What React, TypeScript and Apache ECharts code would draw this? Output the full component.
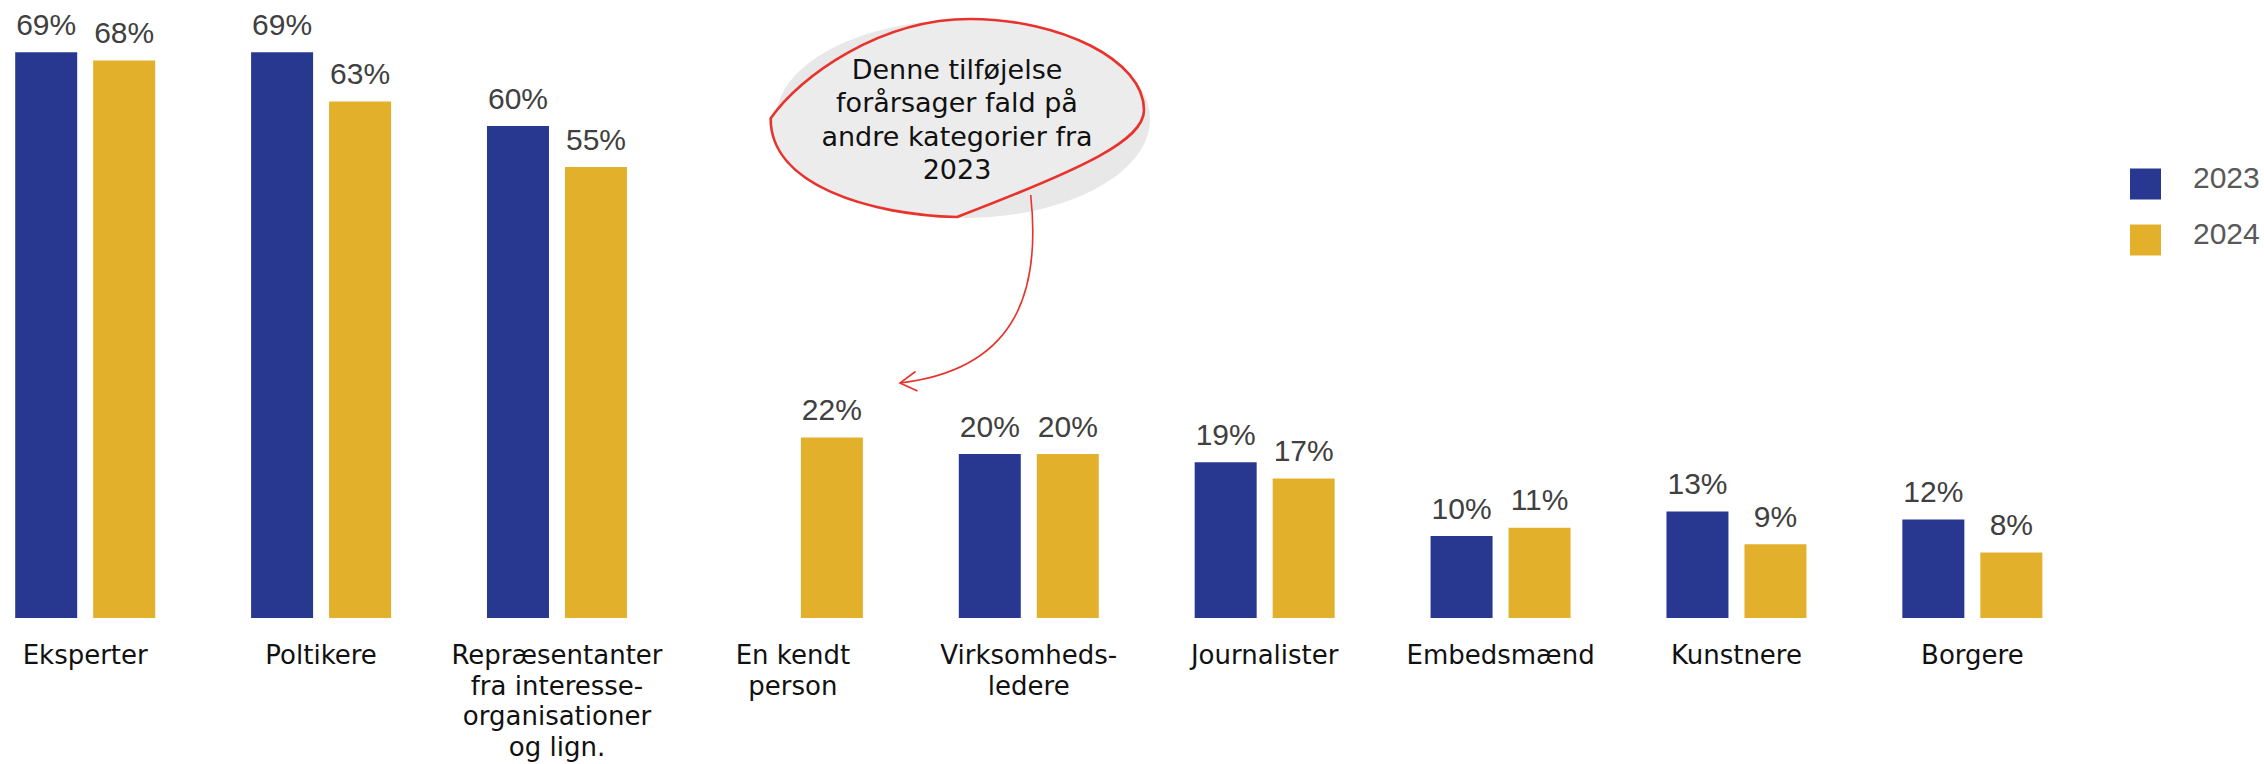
import React, { useEffect, useRef } from "react";
import * as echarts from "echarts";

const categories = [
  "Eksperter",
  "Poltikere",
  "Repræsentanter\nfra interesse-\norganisationer\nog lign.",
  "En kendt\nperson",
  "Virksomheds-\nledere",
  "Journalister",
  "Embedsmænd",
  "Kunstnere",
  "Borgere",
];
const values2023: (number | null)[] = [69, 69, 60, null, 20, 19, 10, 13, 12];
const values2024: number[] = [68, 63, 55, 22, 20, 17, 11, 9, 8];
const seriesNames = ["2023", "2024"];
const noteLines = ["Denne tilføjelse", "forårsager fald på", "andre kategorier fra", "2023"];

const BLUE = "#283891";
const YELLOW = "#E2B02A";
const RED = "#E8322B";

const bubblePath =
  "M770.7 118.3 C800 76 880 19 970 19 C1060 19 1144 60 1144 110 C1144 140 1085 168 957 217 C870 215 770 185 770.7 118.3 Z";

export default function App() {
  const ref = useRef<HTMLDivElement>(null);
  useEffect(() => {
    if (!ref.current) return;
    try {
      echarts.graphic.registerShape("bubble", echarts.graphic.extendPath(bubblePath, {}));
    } catch (e) {}
    const chart = echarts.init(ref.current, null, { renderer: "svg" });
    const labelStyle = {
      show: true,
      position: "top",
      distance: 13,
      formatter: "{c}%",
      color: "#404040",
      fontSize: 30,
      fontFamily: "Liberation Sans, Arial, sans-serif",
    };
    chart.setOption({
      animation: false,
      backgroundColor: "#ffffff",
      grid: {
        left: -32.75,
        right: 173.7,
        top: 3,
        bottom: 146,
        containLabel: false,
        outerBoundsMode: "none",
      },
      legend: {
        orient: "vertical",
        left: 2130,
        top: 162,
        padding: 0,
        itemWidth: 31,
        itemHeight: 31,
        itemGap: 12,
        icon: "rect",
        data: seriesNames,
        formatter: "{a|{name}}",
        textStyle: {
          rich: {
            a: {
              fontSize: 30,
              lineHeight: 30,
              padding: [0, 0, 14, 27],
              color: "#595959",
              fontFamily: "Liberation Sans, Arial, sans-serif",
            },
          },
        },
      },
      xAxis: {
        type: "category",
        data: categories,
        axisLine: { show: false },
        axisTick: { show: false },
        axisLabel: {
          interval: 0,
          margin: 22,
          fontSize: 26,
          lineHeight: 30.5,
          color: "#111111",
          fontFamily: "DejaVu Sans, sans-serif",
        },
      },
      yAxis: {
        type: "value",
        min: 0,
        max: 75,
        show: false,
        splitLine: { show: false },
      },
      series: [
        {
          name: seriesNames[0],
          type: "bar",
          data: values2023,
          barWidth: 62,
          barGap: "25.8%",
          itemStyle: { color: BLUE },
          label: labelStyle,
        },
        {
          name: seriesNames[1],
          type: "bar",
          data: values2024,
          barWidth: 62,
          barGap: "25.8%",
          itemStyle: { color: YELLOW },
          label: labelStyle,
        },
      ],
      graphic: [
        {
          type: "ellipse",
          z: 10,
          shape: { cx: 963, cy: 119, rx: 187, ry: 99 },
          style: { fill: "#e8e8e8" },
        },
        {
          type: "bubble",
          z: 11,
          x: 0,
          y: 0,
          scaleX: 1,
          scaleY: 1,
          style: { fill: "#ececec", stroke: RED, lineWidth: 2.6 },
        },
        {
          type: "text",
          z: 12,
          x: 957,
          y: 119.5,
          style: {
            text: noteLines.join("\n"),
            textAlign: "center",
            textVerticalAlign: "middle",
            fontSize: 27,
            lineHeight: 33.5,
            fontFamily: "DejaVu Sans, sans-serif",
            fill: "#111111",
          },
        },
        {
          type: "bezierCurve",
          z: 12,
          shape: { x1: 1030.7, y1: 195, cpx1: 1042, cpy1: 300, cpx2: 1010, cpy2: 370, x2: 900, y2: 383 },
          style: { stroke: RED, lineWidth: 1.6, fill: null },
        },
        {
          type: "polyline",
          z: 12,
          shape: { points: [[915.5, 371.5], [900, 383], [917.5, 391]] },
          style: { stroke: RED, lineWidth: 1.6, fill: null },
        },
      ],
    });
    return () => chart.dispose();
  }, []);
  return (
    <div
      ref={ref}
      style={{ position: "absolute", left: 0, top: 0, width: 2264, height: 764 }}
    />
  );
}
